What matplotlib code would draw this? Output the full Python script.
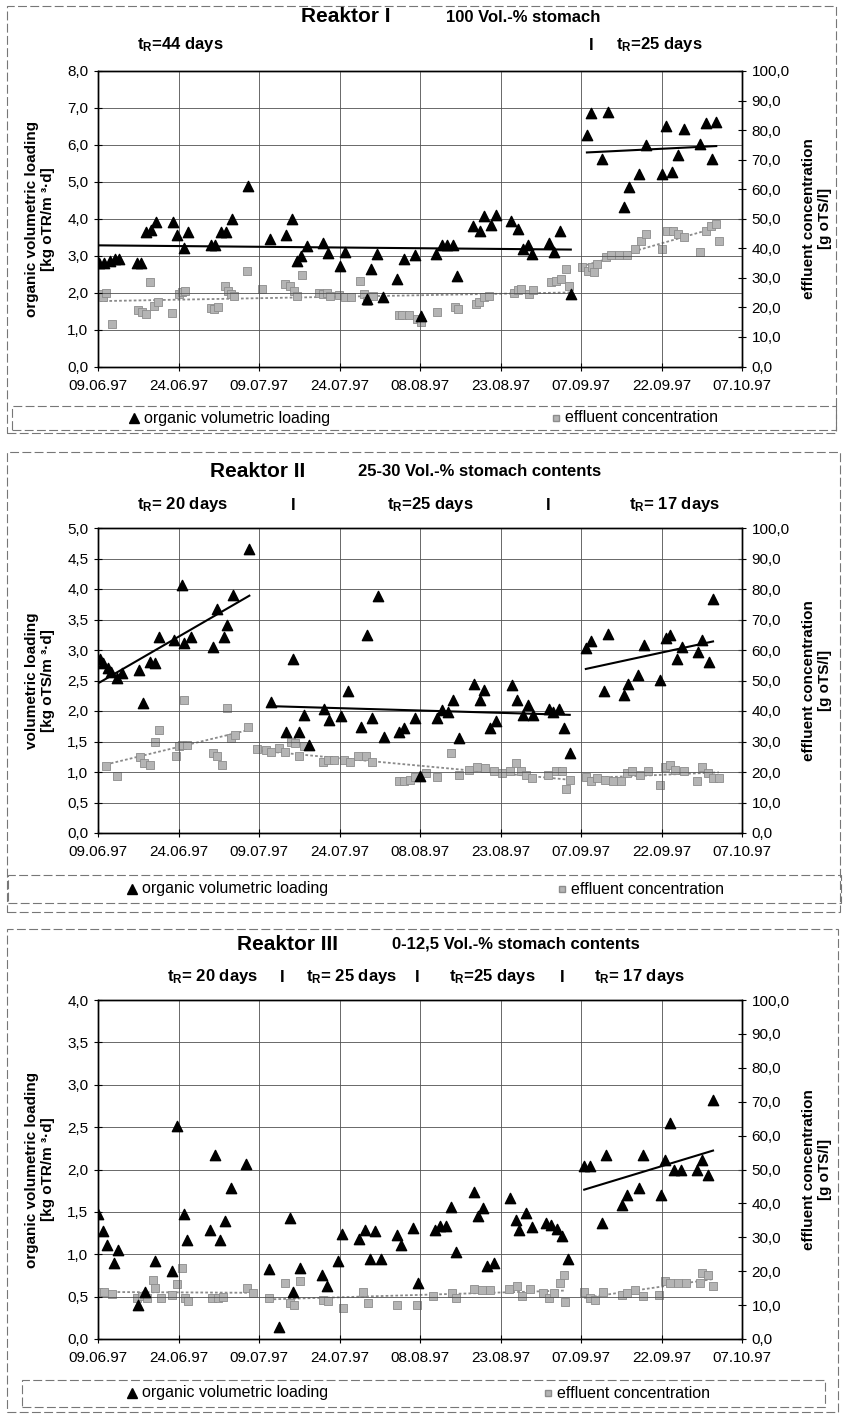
import datetime as dt
import numpy as np
import matplotlib
matplotlib.use("Agg")
import matplotlib.pyplot as plt
import matplotlib.dates as mdates
from matplotlib.patches import Rectangle
from matplotlib.lines import Line2D
from matplotlib.ticker import FuncFormatter, MultipleLocator

plt.rcParams['font.family'] = ['Liberation Sans', 'DejaVu Sans']
plt.rcParams['mathtext.fontset'] = 'custom'
plt.rcParams['mathtext.rm'] = 'Liberation Sans:bold'
plt.rcParams['mathtext.default'] = 'rm'

# ---- data: days after 09.06.97, loading in kg/(m3 d), effluent in g oTS/l ----
start = dt.datetime(1997, 6, 9)

r1_load_day = [0.2, 1.2, 2.2, 3.2, 3.9, 7.2, 8.0, 8.9, 9.9, 10.9, 14.0, 14.8, 16.0, 16.8,
               21.0, 21.8, 23.0, 23.8, 25.0, 28.0, 32.0, 35.0, 36.1, 37.0, 37.9, 39.0,
               41.9, 42.9, 45.0, 46.1, 50.1, 50.9, 52.0, 53.1, 55.8, 57.0, 59.0, 60.2,
               62.9, 64.1, 65.1, 66.2, 66.9, 69.9, 71.2, 72.0, 73.2, 74.1, 77.0, 78.2,
               79.1, 80.1, 80.9, 84.1, 85.0, 86.1, 88.1,
               91.1, 91.9, 93.9, 95.1, 98.1, 98.9, 100.9, 102.1, 105.1, 105.9, 106.9,
               108.1, 109.1, 112.1, 113.2, 114.4, 115.2]
r1_load = [2.8, 2.8, 2.85, 2.9, 2.9, 2.8, 2.8, 3.65, 3.7, 3.9, 3.9, 3.55, 3.2, 3.65,
           3.3, 3.3, 3.65, 3.65, 4.0, 4.9, 3.45, 3.55, 4.0, 2.85, 3.0, 3.25,
           3.35, 3.08, 2.71, 3.1, 1.83, 2.63, 3.04, 1.87, 2.37, 2.9, 3.01, 1.38,
           3.04, 3.3, 3.3, 3.3, 2.46, 3.81, 3.66, 4.08, 3.84, 4.11, 3.93, 3.71,
           3.17, 3.3, 3.04, 3.35, 3.1, 3.66, 1.96,
           6.26, 6.85, 5.63, 6.9, 4.32, 4.86, 5.22, 6.0, 5.22, 6.5, 5.27,
           5.72, 6.44, 6.02, 6.58, 5.63, 6.62]
r1_eff_day = [0.3, 0.9, 1.5, 2.7, 7.5, 8.2, 8.9, 9.7, 10.5, 11.2, 13.8, 15.0, 15.6, 16.2,
              21.0, 21.6, 22.3, 23.6, 24.3, 24.8, 25.3, 27.8, 30.6, 34.8, 35.8, 36.6,
              37.0, 38.0, 41.2, 41.9, 42.6, 43.3, 44.9, 46.1, 47.1, 48.9, 49.5, 50.1,
              51.2, 56.1, 56.7, 58.0, 59.5, 60.2, 63.1, 66.6, 67.0, 70.4, 71.0, 71.9,
              72.8, 77.5, 78.2, 78.8, 80.3, 81.0, 84.4, 85.3, 86.3, 87.2, 87.8,
              90.2, 91.3, 92.0, 92.5, 93.0, 94.6, 95.6, 97.1, 98.6, 100.1, 101.1,
              102.1, 105.1, 106.1, 107.1, 108.1, 109.1, 112.1, 113.2, 114.2, 115.2, 115.7]
r1_eff = [24.5, 23.5, 24.8, 14.4, 19.0, 18.3, 17.8, 28.5, 20.6, 21.7, 18.1, 24.5, 25.2, 25.7,
          19.7, 19.5, 20.0, 27.4, 25.7, 24.5, 24.0, 32.2, 26.2, 27.9, 27.4, 25.5,
          24.0, 30.8, 24.8, 24.4, 25.0, 24.0, 24.2, 23.4, 23.4, 29.0, 24.5, 22.3,
          24.0, 17.5, 17.3, 17.3, 16.2, 15.0, 18.4, 20.0, 19.4, 21.2, 21.8, 23.4,
          24.0, 25.0, 26.0, 26.2, 24.5, 26.0, 28.5, 29.0, 29.6, 32.9, 27.3,
          33.6, 32.4, 33.6, 31.9, 34.8, 37.0, 37.6, 37.6, 37.9, 39.8, 42.6,
          44.9, 39.8, 46.0, 46.0, 45.0, 43.8, 38.7, 46.0, 47.7, 48.3, 42.6]

r2_load_day = [0.3, 1.0, 1.9, 2.4, 3.5, 4.5, 7.6, 8.4, 9.6, 10.6, 11.4, 14.1, 15.7, 16.1,
               17.3, 21.4, 22.1, 23.4, 24.1, 25.2, 28.2,
               32.3, 35.0, 36.4, 37.4, 38.4, 39.4, 42.2, 43.1, 45.2, 46.5, 49.0, 50.2,
               51.0, 52.2, 53.2, 56.1, 57.1, 59.1, 60.0, 63.1, 64.1, 65.2, 66.2, 67.2,
               70.0, 71.2, 72.0, 73.0, 74.1, 77.1, 78.1, 79.1, 80.1, 81.1, 84.0, 84.8,
               85.9, 86.9, 87.9,
               90.9, 91.9, 94.2, 95.0, 98.0, 98.7, 100.7, 101.7, 104.8, 105.8, 106.6,
               107.8, 108.8, 111.8, 112.6, 113.8, 114.6]
r2_load = [2.86, 2.78, 2.70, 2.64, 2.54, 2.62, 2.67, 2.13, 2.80, 2.78, 3.22, 3.16, 4.06, 3.11,
           3.22, 3.05, 3.68, 3.22, 3.41, 3.90, 4.66,
           2.15, 1.66, 2.86, 1.66, 1.94, 1.45, 2.04, 1.85, 1.91, 2.32, 1.74, 3.24,
           1.88, 3.88, 1.58, 1.66, 1.72, 1.88, 0.93, 1.88, 2.02, 1.99, 2.18, 1.55,
           2.45, 2.18, 2.34, 1.72, 1.83, 2.43, 2.18, 1.94, 2.10, 1.94, 2.04, 1.99,
           2.04, 1.72, 1.31,
           3.03, 3.14, 2.32, 3.27, 2.26, 2.45, 2.59, 3.08, 2.51, 3.19, 3.24,
           2.86, 3.05, 2.97, 3.16, 2.81, 3.83]
r2_eff_day = [1.5, 3.5, 7.8, 8.6, 9.6, 10.6, 11.4, 14.6, 15.1, 15.6, 16.1, 16.6, 21.4, 22.1,
              23.1, 24.1, 24.8, 25.6, 28.0,
              29.6, 31.3, 32.3, 33.8, 34.8, 35.9, 36.7, 37.4, 38.4, 41.9, 42.9, 43.9,
              45.9, 47.0, 48.5, 50.0, 51.0, 56.1, 57.1, 58.1, 59.1, 61.1, 63.1, 65.7,
              67.2, 69.2, 70.7, 72.2, 73.7, 75.3, 76.8, 77.8, 78.8, 79.8, 80.8, 83.8,
              85.4, 86.4, 87.2, 87.9,
              90.9, 91.9, 92.9, 94.4, 95.9, 97.5, 98.5, 99.5, 101.0, 102.5, 104.8,
              105.6, 106.6, 107.6, 109.1, 111.6, 112.6, 113.6, 114.6, 115.7]
r2_eff = [22.0, 18.8, 24.9, 22.9, 22.4, 30.0, 33.8, 25.1, 28.4, 28.9, 43.6, 28.9, 26.2, 25.1,
          22.4, 40.9, 31.1, 32.2, 34.9,
          27.5, 27.3, 26.7, 27.8, 26.7, 30.0, 29.4, 25.1, 28.4, 23.4, 24.0, 24.0,
          24.0, 23.4, 25.1, 25.1, 23.4, 16.9, 16.9, 17.4, 18.5, 19.6, 18.5, 26.2,
          19.1, 20.7, 21.8, 21.3, 20.2, 19.6, 20.2, 22.9, 20.2, 19.1, 18.0, 19.1,
          20.2, 20.2, 14.4, 17.4,
          18.5, 16.9, 18.0, 17.4, 16.9, 16.9, 19.6, 20.2, 19.1, 20.2, 15.8,
          21.8, 22.4, 20.7, 20.2, 16.9, 21.8, 19.6, 18.0, 18.0]

r3_load_day = [0.0, 0.9, 1.7, 2.9, 3.7, 7.5, 8.7, 10.7, 13.8, 14.8, 16.0, 16.6, 20.8, 21.8,
               22.8, 23.6, 24.8, 27.6, 31.8, 33.8, 35.8, 36.4, 37.7, 41.7, 42.7, 44.7,
               45.4, 48.7, 49.7, 50.7, 51.7, 52.7, 55.7, 56.4, 58.7, 59.7, 62.8, 63.8,
               64.8, 65.8, 66.8, 70.0, 70.8, 71.8, 72.5, 73.8, 76.8, 77.8, 78.5, 79.8,
               80.8, 83.5, 84.5, 85.5, 86.5, 87.6,
               90.6, 91.6, 93.9, 94.6, 97.6, 98.6, 100.9, 101.6, 104.9, 105.6, 106.6,
               107.3, 108.6, 111.6, 112.6, 113.6, 114.6]
r3_load = [1.47, 1.27, 1.11, 0.90, 1.05, 0.40, 0.56, 0.92, 0.80, 2.51, 1.48, 1.17, 1.29, 2.17,
           1.17, 1.39, 1.78, 2.06, 0.83, 0.14, 1.43, 0.56, 0.84, 0.75, 0.62, 0.92,
           1.24, 1.18, 1.29, 0.94, 1.28, 0.94, 1.23, 1.11, 1.31, 0.66, 1.29, 1.33,
           1.33, 1.56, 1.03, 1.73, 1.45, 1.54, 0.86, 0.90, 1.66, 1.41, 1.29, 1.49,
           1.32, 1.37, 1.34, 1.30, 1.22, 0.94,
           2.04, 2.04, 1.37, 2.17, 1.58, 1.70, 1.78, 2.17, 1.70, 2.11, 2.55,
           2.00, 2.00, 2.00, 2.11, 1.94, 2.82]
r3_eff_day = [0.0, 1.2, 2.7, 7.2, 8.2, 9.2, 10.2, 10.7, 11.7, 13.8, 14.8, 15.6, 16.3, 16.8,
              21.3, 22.3, 23.3, 27.8, 28.8,
              31.8, 34.8, 35.8, 36.6, 37.6, 41.9, 42.9, 45.7, 49.4, 50.4, 55.7, 59.4,
              62.4, 65.9, 66.7, 70.0, 71.5, 73.0, 76.5, 78.0, 79.0, 80.5, 83.0, 84.0,
              85.0, 86.0, 86.8, 87.1,
              90.6, 91.6, 92.6, 94.1, 97.6, 98.6, 100.1, 101.6, 104.6, 105.6, 106.6,
              108.1, 109.6, 112.1, 112.6, 113.6, 114.6]
r3_eff = [14.0, 13.8, 13.4, 12.1, 12.8, 12.1, 17.5, 15.0, 12.1, 13.1, 16.3, 20.9, 12.1, 11.1,
          12.1, 12.1, 12.4, 15.0, 13.6,
          12.1, 16.5, 10.6, 10.1, 17.0, 11.6, 11.1, 9.1, 14.0, 10.6, 10.1, 10.1,
          12.6, 13.6, 12.1, 14.7, 14.5, 14.5, 14.7, 15.5, 12.6, 14.7, 13.6, 12.1,
          13.6, 16.5, 19.0, 10.8,
          14.0, 12.1, 11.6, 14.0, 13.1, 13.6, 14.5, 12.6, 13.1, 17.0, 16.5,
          16.5, 16.5, 16.5, 19.5, 19.0, 15.5]

# ---- figure layout (fractions of an 843 x 1418 px canvas) ----
W, H = 843, 1418
fig = plt.figure(figsize=(W / 100, H / 100), dpi=100)
fig.patch.set_facecolor("white")

def fx(px):
    return px / W

def fy(py):
    return 1 - py / H

x0 = mdates.date2num(start)
date_ticks = [x0 + 15 * i for i in range(9)]
comma1 = FuncFormatter(lambda v, p: ("%.1f" % v).replace(".", ","))
tick_font = ['Liberation Sans Narrow', 'Liberation Sans', 'DejaVu Sans']


def trend(ax, day, val, lo, hi, **kw):
    d = np.array(day)
    v = np.array(val)
    m = (d >= lo) & (d < hi)
    k, b = np.polyfit(d[m], v[m], 1)
    xs = np.array([d[m].min(), d[m].max()])
    ax.plot(x0 + xs, k * xs + b, **kw)


def panel(top, bottom, ymax, ystep, load_day, load, eff_day, eff,
          load_segs, eff_segs, ylabel):
    ax = fig.add_axes([fx(98), fy(bottom), fx(742 - 98), (bottom - top) / H])
    ax2 = ax.twinx()
    ax.set_zorder(ax2.get_zorder() + 1)
    ax.patch.set_visible(False)

    ax2.scatter(x0 + np.array(eff_day), eff, marker="s", s=26, facecolor="#b4b4b4",
                edgecolor="#8c8c8c", linewidths=0.6, zorder=3)
    for lo, hi in eff_segs:
        trend(ax2, eff_day, eff, lo, hi, color="#8a8a8a", lw=1.3, ls=(0, (1.5, 1.2)))
    ax.scatter(x0 + np.array(load_day), load, marker="^", s=55, color="black", zorder=4)
    for lo, hi in load_segs:
        trend(ax, load_day, load, lo, hi, color="black", lw=1.5, zorder=5)

    ax.set_xlim(x0, x0 + 120)
    ax.set_ylim(0, ymax)
    ax2.set_ylim(0, 100)
    ax.yaxis.set_major_locator(MultipleLocator(ystep))
    ax2.yaxis.set_major_locator(MultipleLocator(10))
    ax.yaxis.set_major_formatter(comma1)
    ax2.yaxis.set_major_formatter(comma1)
    ax.set_xticks(date_ticks)
    ax.xaxis.set_major_formatter(mdates.DateFormatter("%d.%m.%y"))
    ax.grid(True, color="#505050", lw=0.6)
    ax.set_axisbelow(True)
    for a in (ax, ax2):
        a.tick_params(direction="inout", length=6, width=0.8, labelsize=11, pad=4)
        for lab in a.get_xticklabels() + a.get_yticklabels():
            lab.set_family(tick_font)
        for s in a.spines.values():
            s.set_linewidth(1.0)
    ax.tick_params(axis="x", pad=6)

    mid = 1 - (top + bottom) / 2 / H
    fig.text(fx(40), mid, ylabel, rotation=90, ha="center", va="center",
             fontsize=11, fontweight="bold", linespacing=1.1)
    fig.text(fx(817), mid, "effluent concentration\n[g oTS/l]", rotation=90,
             ha="center", va="center", fontsize=11, fontweight="bold", linespacing=1.1)
    return ax


def frame(top, bottom, left, right, legy, legtop, legbot, legl, legr, tri_x, eff_x):
    fig.patches.append(Rectangle((fx(left), fy(bottom)), fx(right - left), (bottom - top) / H,
                                 transform=fig.transFigure, fill=False, ec="#777777",
                                 lw=0.8, ls=(0, (8, 3))))
    fig.patches.append(Rectangle((fx(legl), fy(legbot)), fx(legr - legl), (legbot - legtop) / H,
                                 transform=fig.transFigure, fill=False, ec="#777777",
                                 lw=0.8, ls=(0, (8, 3))))
    fig.lines.append(Line2D([fx(tri_x)], [fy(legy)], transform=fig.transFigure,
                            marker="^", ms=7.5, color="black", ls="none"))
    fig.text(fx(tri_x + 10), fy(legy), "organic volumetric loading", ha="left",
             va="center", fontsize=11.5, family=tick_font)
    fig.lines.append(Line2D([fx(eff_x)], [fy(legy)], transform=fig.transFigure,
                            marker="s", ms=5, mfc="#b4b4b4", mec="#8c8c8c", ls="none"))
    fig.text(fx(eff_x + 9), fy(legy), "effluent concentration", ha="left",
             va="center", fontsize=11.5, family=tick_font)


def header(ty, name, nx, sub, sx, row_y, row):
    fig.text(fx(nx), fy(ty), name, ha="left", va="center", fontsize=15, fontweight="bold")
    fig.text(fx(sx), fy(ty), sub, ha="left", va="center", fontsize=12, fontweight="bold",
             family=tick_font)
    for x, s in row:
        fig.text(fx(x), fy(row_y), s, ha="left", va="center", fontsize=12,
                 fontweight="bold", family=tick_font)


# Reaktor I
panel(71, 366.5, 8, 1, r1_load_day, r1_load, r1_eff_day, r1_eff,
      [(0, 90), (90, 130)], [(0, 90), (90, 130)],
      "organic volumetric loading\n[kg oTR/m \u00b3\u00b7d]")
frame(6, 433, 7, 836, 418, 406, 430, 12, 836, 134, 556)
header(17, "Reaktor I", 301, "100 Vol.-% stomach", 446, 45,
       [(137, r"t$_{R}$=44 days"), (589, "I"), (616, r"t$_{R}$=25 days")])

# Reaktor II
panel(528, 833, 5, 0.5, r2_load_day, r2_load, r2_eff_day, r2_eff,
      [(0, 29), (29, 90), (90, 130)], [(0, 29), (29, 90), (90, 130)],
      "volumetric loading\n[kg oTS/m \u00b3\u00b7d]")
frame(452, 912, 7, 840, 889, 875, 903, 8, 841, 132, 562)
header(472, "Reaktor II", 210, "25-30 Vol.-% stomach contents", 358, 505,
       [(137, r"t$_{R}$= 20 days"), (291, "I"), (387, r"t$_{R}$=25 days"), (546, "I"),
        (629, r"t$_{R}$= 17 days")])

# Reaktor III
panel(1000, 1339, 4, 0.5, r3_load_day, r3_load, r3_eff_day, r3_eff,
      [(90, 130)], [(0, 29), (29, 90), (90, 130)],
      "organic volumetric loading\n[kg oTR/m \u00b3\u00b7d]")
frame(929, 1412, 7, 838, 1393, 1380, 1407, 22, 825, 132, 548)
header(944, "Reaktor III", 237, "0-12,5 Vol.-% stomach contents", 392, 977,
       [(167, r"t$_{R}$= 20 days"), (280, "I"), (306, r"t$_{R}$= 25 days"), (415, "I"),
        (449, r"t$_{R}$=25 days"), (560, "I"), (594, r"t$_{R}$= 17 days")])

fig.savefig("out.png", dpi=100)
